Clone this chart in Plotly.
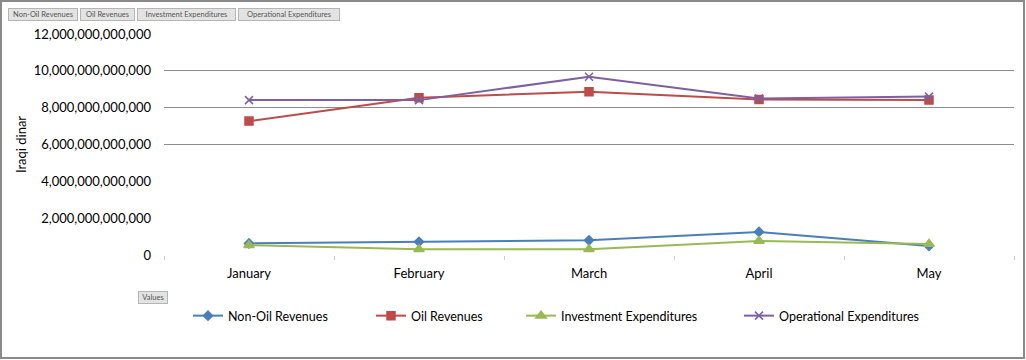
import plotly.graph_objects as go

months = ["January", "February", "March", "April", "May"]
non_oil = [0.63e12, 0.72e12, 0.80e12, 1.25e12, 0.49e12]
oil = [7.27e12, 8.54e12, 8.87e12, 8.45e12, 8.41e12]
investment = [0.53e12, 0.31e12, 0.31e12, 0.76e12, 0.60e12]
operational = [8.41e12, 8.41e12, 9.68e12, 8.50e12, 8.60e12]

series = [
    ("Non-Oil Revenues", non_oil, "#4A7EBB", "diamond", 7, "legend", 188),
    ("Oil Revenues", oil, "#BE4B48", "square", 8, "legend2", 371),
    ("Investment Expenditures", investment, "#98B954", "triangle-up", 9, "legend3", 521),
    ("Operational Expenditures", operational, "#7D60A0", "x-thin", 8, "legend4", 739),
]

W, H = 1026, 360
L, R, T, B = 164, 12, 34, 105
PW, PH = W - L - R, H - T - B

def px(x):
    return (x - L) / PW

def py(y):
    return (H - B - y) / PH

font = "Lato, 'Open Sans', sans-serif"

fig = go.Figure()
legends = {}
for name, vals, col, sym, sz, leg, lx in series:
    fig.add_trace(go.Scatter(
        x=months, y=vals, name=name, mode="lines+markers", legend=leg,
        line=dict(color=col, width=2),
        marker=dict(symbol=sym, size=sz, color=col, line=dict(color=col, width=1.5)),
    ))
    legends[leg] = dict(orientation="h", x=px(lx), xanchor="left", y=py(316), yanchor="middle",
                        font=dict(size=12.5), itemwidth=30, bgcolor="rgba(0,0,0,0)")

# overlay axis carrying only the visible gridlines
fig.add_trace(go.Scatter(x=months, y=[None]*5, yaxis="y2", showlegend=False, hoverinfo="skip"))

fig.update_layout(
    width=W, height=H,
    margin=dict(l=L, r=R, t=T, b=B),
    paper_bgcolor="white", plot_bgcolor="white",
    font=dict(family=font, size=13, color="#000"),
    showlegend=True,
    xaxis=dict(range=[-0.5, 4.5], showgrid=False, showline=False, zeroline=False, ticks="outside",
               tickson="boundaries", ticklen=4, tickcolor="#d0d0d0",
               tickfont=dict(size=13), ticklabelstandoff=9),
    yaxis=dict(range=[0, 12e12], tickvals=[0, 2e12, 4e12, 6e12, 8e12, 10e12, 12e12],
               tickformat=",.0f", showgrid=False, zeroline=False, showline=False,
               ticklabelstandoff=12, tickfont=dict(size=13),
               title=dict(text="Iraqi dinar", font=dict(size=13), standoff=4)),
    yaxis2=dict(range=[0, 12e12], overlaying="y", tickvals=[6e12, 8e12, 10e12],
                showticklabels=False, showgrid=True, gridcolor="#8c8c8c", gridwidth=1,
                zeroline=False, showline=False),
    **legends,
)

# field buttons (pivot chart)
buttons = [("Non-Oil Revenues", 8, 78), ("Oil Revenues", 80, 135),
           ("Investment Expenditures", 137, 236), ("Operational Expenditures", 238, 340)]
for text, x0, x1 in buttons:
    fig.add_annotation(text=text, xref="paper", yref="paper", x=px((x0 + x1) / 2), y=py(14),
                       xanchor="center", yanchor="middle", showarrow=False,
                       width=x1 - x0 - 2, height=11, bgcolor="#e3e3e3", bordercolor="#b5b5b5",
                       borderwidth=1, borderpad=0, font=dict(size=7.5, color="#555", family=font))
fig.add_annotation(text="Values", xref="paper", yref="paper", x=px(153), y=py(297),
                   xanchor="center", yanchor="middle", showarrow=False,
                   width=28, height=11, bgcolor="#e3e3e3", bordercolor="#b5b5b5",
                   borderwidth=1, borderpad=0, font=dict(size=7.5, color="#555", family=font))

# outer frame
fig.add_shape(type="rect", xref="paper", yref="paper", x0=px(1), x1=px(1024), y0=py(1), y1=py(358),
              line=dict(color="#8a8a8a", width=2), fillcolor="rgba(0,0,0,0)", layer="below")

fig.write_html("out.html", config={"displayModeBar": False},
               post_script="document.body.style.margin='0';")
